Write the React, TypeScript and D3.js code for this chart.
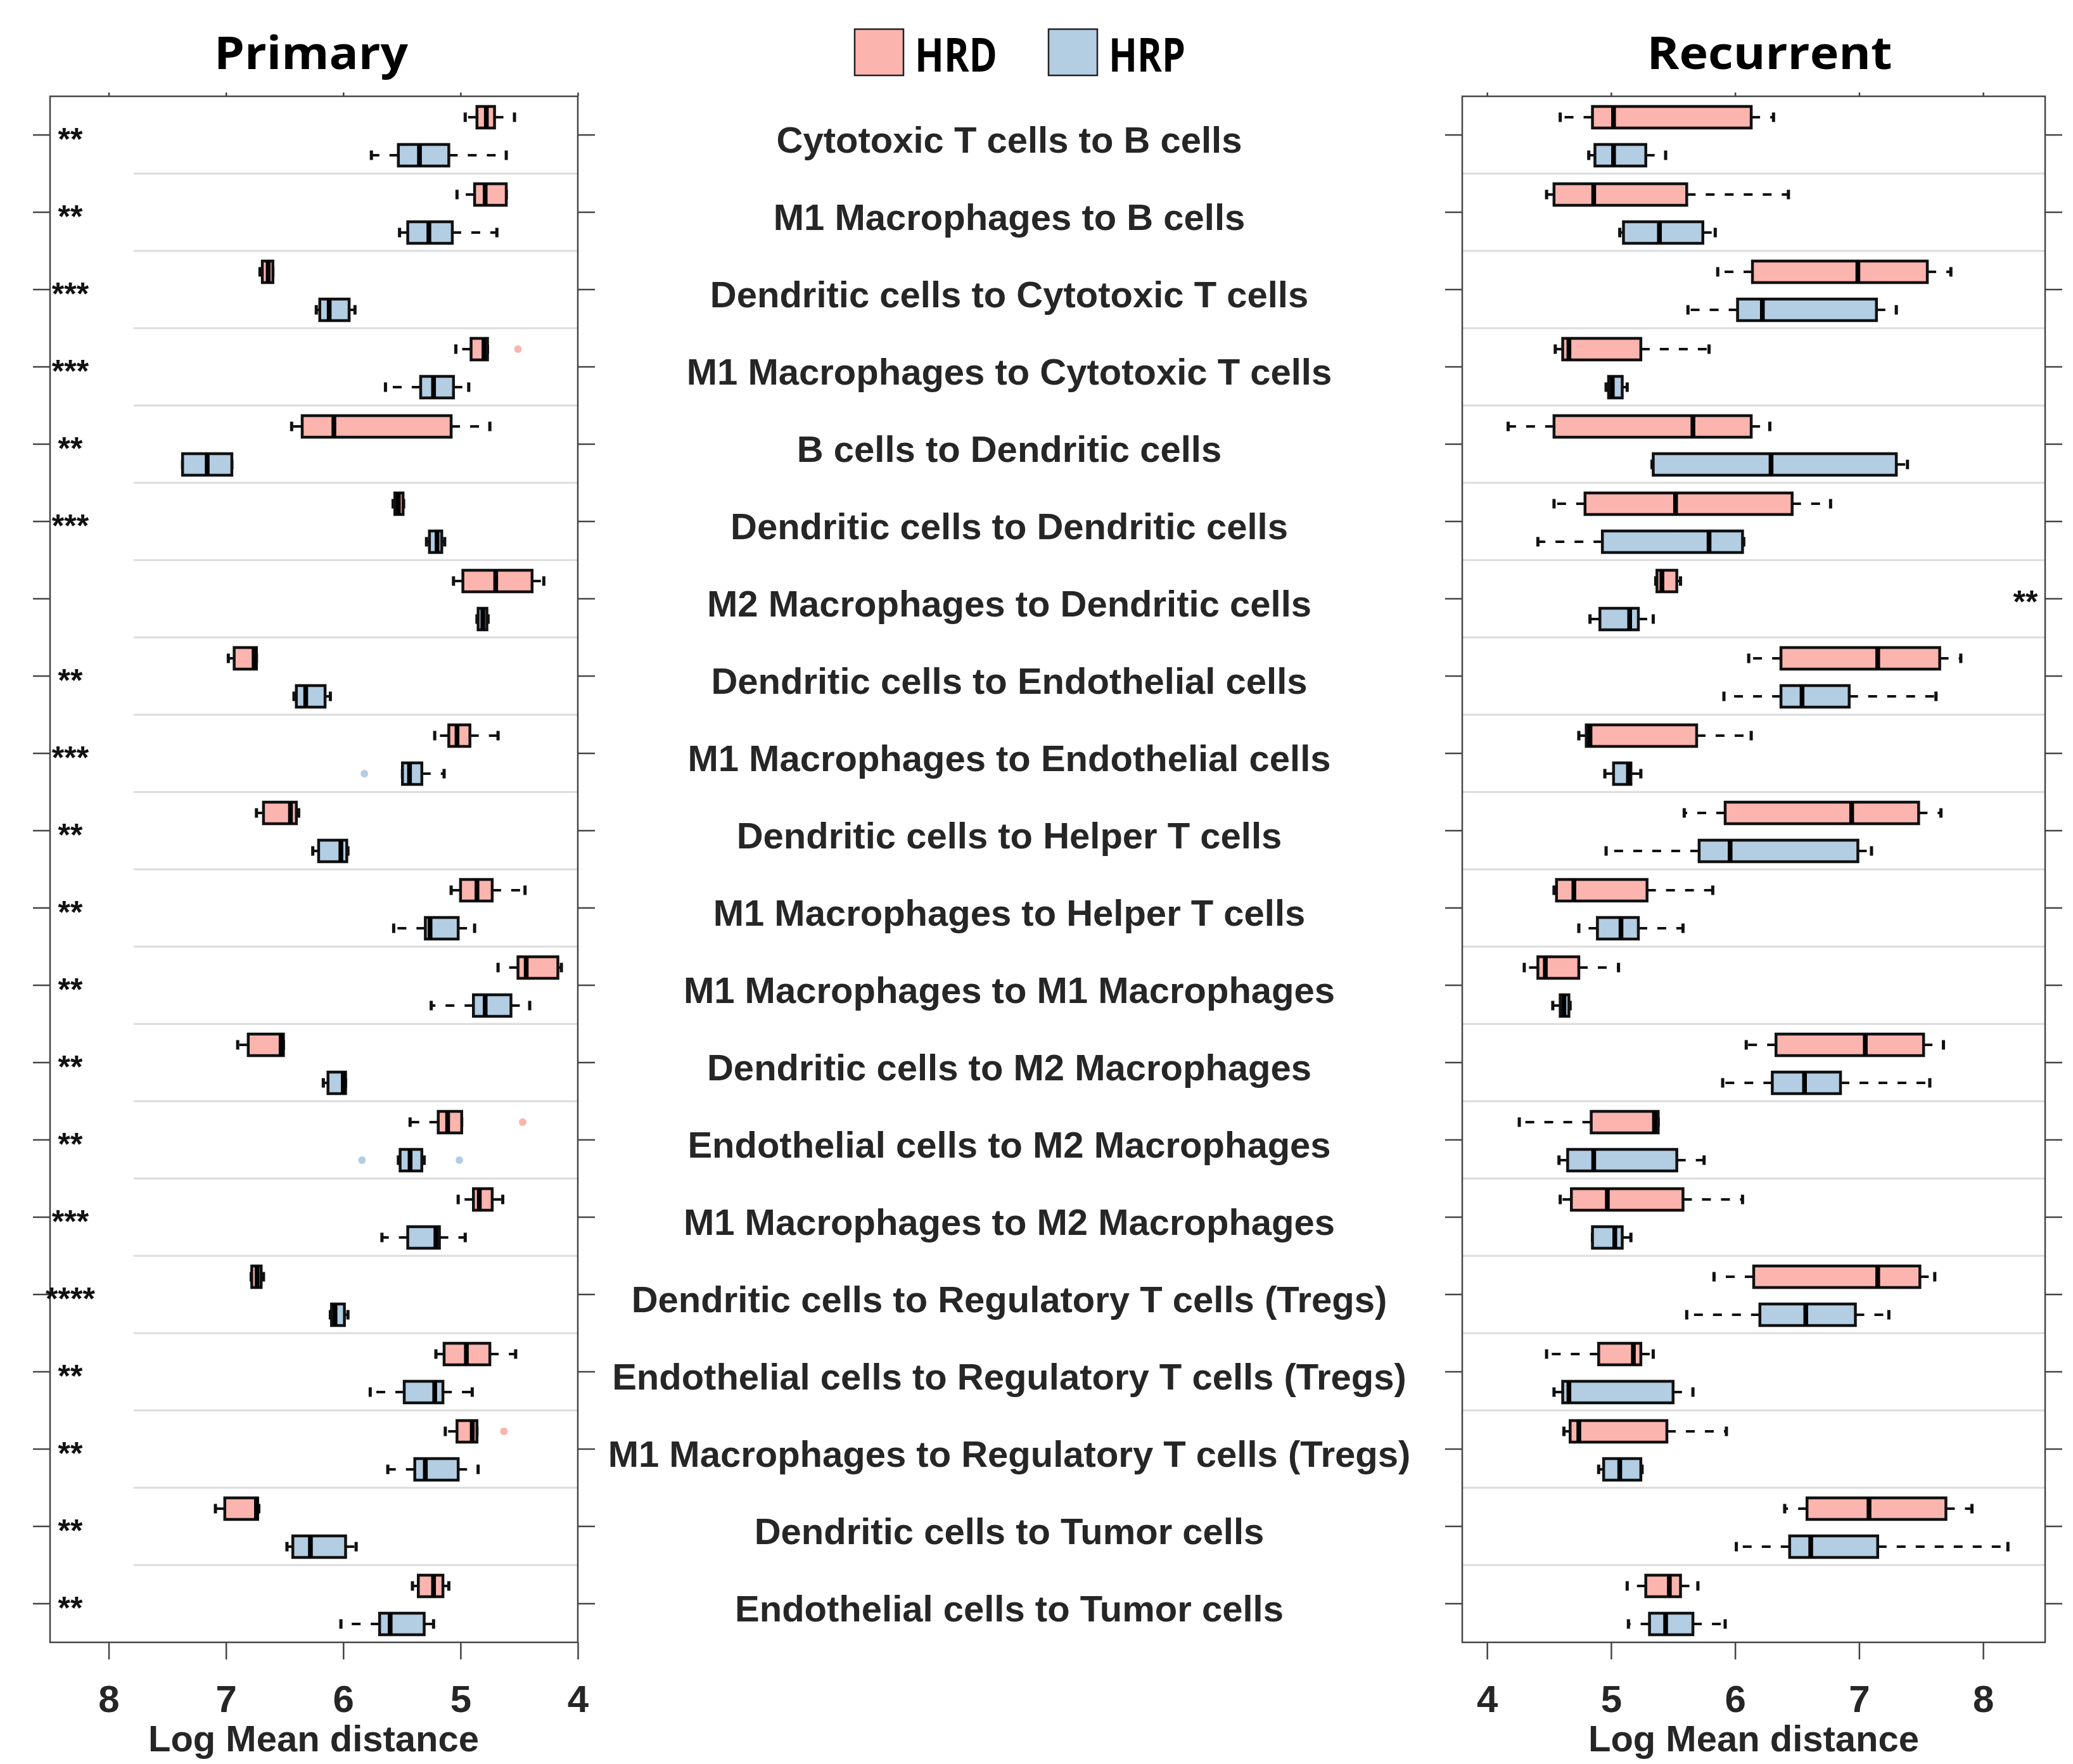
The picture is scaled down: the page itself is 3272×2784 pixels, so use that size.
import { useEffect, useRef } from 'react'
import * as d3 from 'd3'

const categories = [
  'Cytotoxic T cells to B cells',
  'M1 Macrophages to B cells',
  'Dendritic cells to Cytotoxic T cells',
  'M1 Macrophages to Cytotoxic T cells',
  'B cells to Dendritic cells',
  'Dendritic cells to Dendritic cells',
  'M2 Macrophages to Dendritic cells',
  'Dendritic cells to Endothelial cells',
  'M1 Macrophages to Endothelial cells',
  'Dendritic cells to Helper T cells',
  'M1 Macrophages to Helper T cells',
  'M1 Macrophages to M1 Macrophages',
  'Dendritic cells to M2 Macrophages',
  'Endothelial cells to M2 Macrophages',
  'M1 Macrophages to M2 Macrophages',
  'Dendritic cells to Regulatory T cells (Tregs)',
  'Endothelial cells to Regulatory T cells (Tregs)',
  'M1 Macrophages to Regulatory T cells (Tregs)',
  'Dendritic cells to Tumor cells',
  'Endothelial cells to Tumor cells',
]

// [lower whisker, q1, median, q3, upper whisker]
const primaryHRD = [
  [4.54, 4.71, 4.78, 4.86, 4.96],
  [4.61, 4.61, 4.79, 4.88, 5.03],
  [6.6, 6.6, 6.64, 6.69, 6.71],
  [4.77, 4.77, 4.8, 4.91, 5.04],
  [4.75, 5.08, 6.08, 6.35, 6.44],
  [5.485, 5.49, 5.53, 5.56, 5.575],
  [4.29, 4.39, 4.7, 4.98, 5.06],
  [6.74, 6.74, 6.76, 6.93, 6.98],
  [4.68, 4.92, 5.03, 5.1, 5.22],
  [6.38, 6.4, 6.45, 6.68, 6.74],
  [4.45, 4.73, 4.86, 5.0, 5.08],
  [4.14, 4.17, 4.44, 4.51, 4.68],
  [6.51, 6.51, 6.53, 6.81, 6.9],
  [4.99, 4.99, 5.11, 5.19, 5.43],
  [4.64, 4.73, 4.84, 4.89, 5.02],
  [6.68, 6.7, 6.735, 6.78, 6.785],
  [4.53, 4.75, 4.95, 5.14, 5.21],
  [4.86, 4.86, 4.9, 5.03, 5.13],
  [6.72, 6.73, 6.74, 7.01, 7.09],
  [5.1, 5.15, 5.23, 5.36, 5.41],
]

const primaryHRP = [
  [4.61, 5.1, 5.35, 5.53, 5.76],
  [4.69, 5.07, 5.27, 5.45, 5.52],
  [5.9, 5.95, 6.12, 6.2, 6.23],
  [4.93, 5.06, 5.23, 5.34, 5.64],
  [6.95, 6.95, 7.16, 7.37, 7.37],
  [5.135, 5.16, 5.2, 5.265, 5.29],
  [4.765, 4.775, 4.81, 4.85, 4.86],
  [6.11, 6.155, 6.32, 6.4, 6.42],
  [5.14, 5.33, 5.435, 5.495, 5.495],
  [5.96, 5.97, 6.02, 6.21, 6.26],
  [4.88, 5.02, 5.26, 5.3, 5.57],
  [4.41, 4.57, 4.79, 4.89, 5.25],
  [5.98, 5.98, 6.0, 6.13, 6.17],
  [5.31, 5.33, 5.43, 5.515, 5.53],
  [4.96, 5.18, 5.21, 5.45, 5.67],
  [5.96, 5.99, 6.07, 6.1, 6.11],
  [4.9, 5.15, 5.22, 5.48, 5.77],
  [4.85, 5.02, 5.3, 5.39, 5.62],
  [5.89, 5.98, 6.28, 6.43, 6.48],
  [5.23, 5.31, 5.6, 5.69, 6.02],
]

const recurrentHRD = [
  [4.59, 4.85, 5.02, 6.13, 6.31],
  [4.48, 4.54, 4.86, 5.61, 6.43],
  [5.86, 6.14, 6.99, 7.55, 7.74],
  [4.55, 4.61, 4.66, 5.24, 5.79],
  [4.17, 4.54, 5.66, 6.13, 6.28],
  [4.54, 4.79, 5.52, 6.46, 6.77],
  [5.36, 5.37, 5.41, 5.53, 5.56],
  [6.11, 6.37, 7.15, 7.65, 7.82],
  [4.74, 4.8, 4.83, 5.69, 6.13],
  [5.59, 5.92, 6.94, 7.48, 7.66],
  [4.54, 4.56, 4.7, 5.29, 5.82],
  [4.3, 4.41, 4.47, 4.74, 5.06],
  [6.09, 6.33, 7.05, 7.52, 7.68],
  [4.26, 4.84, 5.35, 5.38, 5.38],
  [4.59, 4.68, 4.97, 5.58, 6.06],
  [5.83, 6.15, 7.15, 7.49, 7.61],
  [4.48, 4.9, 5.18, 5.24, 5.34],
  [4.62, 4.67, 4.74, 5.45, 5.93],
  [6.4, 6.58, 7.08, 7.7, 7.91],
  [5.13, 5.28, 5.47, 5.56, 5.7],
]

const recurrentHRP = [
  [4.82, 4.87, 5.02, 5.28, 5.44],
  [5.07, 5.1, 5.39, 5.74, 5.84],
  [5.62, 6.02, 6.22, 7.14, 7.3],
  [4.96, 4.98, 5.01, 5.09, 5.13],
  [5.33, 5.34, 6.29, 7.3, 7.39],
  [4.41, 4.93, 5.79, 6.06, 6.07],
  [4.83, 4.91, 5.15, 5.22, 5.34],
  [5.91, 6.37, 6.54, 6.92, 7.62],
  [4.95, 5.02, 5.14, 5.16, 5.24],
  [4.96, 5.71, 5.96, 6.99, 7.1],
  [4.74, 4.89, 5.08, 5.22, 5.58],
  [4.53, 4.59, 4.62, 4.66, 4.67],
  [5.9, 6.3, 6.56, 6.85, 7.57],
  [4.58, 4.65, 4.86, 5.53, 5.75],
  [4.85, 4.85, 5.03, 5.09, 5.16],
  [5.61, 6.2, 6.57, 6.97, 7.24],
  [4.54, 4.61, 4.66, 5.5, 5.66],
  [4.9, 4.94, 5.07, 5.24, 5.25],
  [6.01, 6.44, 6.61, 7.15, 8.2],
  [5.14, 5.31, 5.44, 5.66, 5.92],
]

// [row index, value]
const primaryHRDOutliers = [
  [3, 4.51],
  [13, 4.47],
  [17, 4.63],
]
const primaryHRPOutliers = [
  [8, 5.82],
  [13, 5.84],
  [13, 5.01],
]

const primarySig = ['**', '**', '***', '***', '**', '***', '', '**', '***', '**',
  '**', '**', '**', '**', '***', '****', '**', '**', '**', '**']
const recurrentSig = ['', '', '', '', '', '', '**', '', '', '',
  '', '', '', '', '', '', '', '', '', '']

const xTicks = [4, 5, 6, 7, 8]
const groups = ['HRD', 'HRP']

const W = 3272
const H = 2784
const TOP = 152
const BOTTOM = 2592
const HRD_COLOR = '#fbb4ae'
const HRP_COLOR = '#b3cde3'
const TEXT = '#262626'
const LABEL_FONT = '"Liberation Sans", Arial, Helvetica, sans-serif'
const TITLE_FONT = '"Open Sans", "Noto Sans", sans-serif'

const y = d3.scaleBand().domain(categories).range([TOP, BOTTOM])
const xPrim = d3.scaleLinear().domain([8.5, 4]).range([79, 912])
const xRec = d3.scaleLinear().domain([3.8, 8.5]).range([2308, 3228])

const BOX_H = 34
const CAP_H = 15
const offsets = { HRD: -28, HRP: 32 }

function BoxGroup({ x, stats, color, offset }) {
  return (
    <g>
      {stats.map((s, i) => {
        const [lo, q1, med, q3, hi] = s
        const yc = y(categories[i]) + y.bandwidth() / 2 + offset
        const bx = Math.min(x(q1), x(q3))
        const bw = Math.abs(x(q3) - x(q1))
        return (
          <g key={i}>
            <line x1={x(q3)} x2={x(hi)} y1={yc} y2={yc} stroke="#111" strokeWidth={4} strokeDasharray="14,16" />
            <line x1={x(q1)} x2={x(lo)} y1={yc} y2={yc} stroke="#111" strokeWidth={4} strokeDasharray="14,16" />
            <line x1={x(hi)} x2={x(hi)} y1={yc - CAP_H / 2} y2={yc + CAP_H / 2} stroke="#111" strokeWidth={5} />
            <line x1={x(lo)} x2={x(lo)} y1={yc - CAP_H / 2} y2={yc + CAP_H / 2} stroke="#111" strokeWidth={5} />
            <rect x={bx} y={yc - BOX_H / 2} width={Math.max(bw, 1)} height={BOX_H} fill={color} stroke="#111" strokeWidth={4.5} />
            <line x1={x(med)} x2={x(med)} y1={yc - BOX_H / 2} y2={yc + BOX_H / 2} stroke="#000" strokeWidth={7.5} />
          </g>
        )
      })}
    </g>
  )
}

function Outliers({ x, points, color, offset }) {
  return (
    <g>
      {points.map(([i, v], k) => (
        <circle key={k} cx={x(v)} cy={y(categories[i]) + y.bandwidth() / 2 + offset} r={6} fill={color} />
      ))}
    </g>
  )
}

export default function App() {
  const axRef = useRef(null)

  useEffect(() => {
    const g = d3.select(axRef.current)
    g.selectAll('*').remove()

    const panels = [xPrim, xRec]
    panels.forEach((x) => {
      const [x0, x1] = x.range()

      const bottom = g.append('g')
        .attr('transform', `translate(0,${BOTTOM})`)
        .call(d3.axisBottom(x).tickValues(xTicks).tickSize(27).tickPadding(40).tickFormat(d3.format('d')))
      const top = g.append('g')
        .attr('transform', `translate(0,${TOP})`)
        .call(d3.axisTop(x).tickValues(xTicks).tickSize(6).tickFormat(() => ''))
      const left = g.append('g')
        .attr('transform', `translate(${x0},0)`)
        .call(d3.axisLeft(y).tickSize(27).tickFormat(() => ''))
      const right = g.append('g')
        .attr('transform', `translate(${x1},0)`)
        .call(d3.axisRight(y).tickSize(27).tickFormat(() => ''))

      ;[bottom, top, left, right].forEach((a) => {
        a.select('.domain').remove()
        a.selectAll('line').attr('stroke', '#444').attr('stroke-width', 2.5)
      })
      bottom.selectAll('text')
        .attr('font-family', LABEL_FONT)
        .attr('font-weight', 'bold')
        .attr('font-size', 60)
        .attr('fill', TEXT)
    })
  }, [])

  const sepLines = categories.slice(1)

  return (
    <svg width={W} height={H} style={{ position: 'absolute', left: 0, top: 0, background: '#fff' }}>
      <rect width={W} height={H} fill="#fff" />

      {/* row separators */}
      {sepLines.map((c) => (
        <g key={c}>
          <line x1={211} x2={912} y1={y(c)} y2={y(c)} stroke="#dcdcdc" strokeWidth={3} />
          <line x1={2308} x2={3228} y1={y(c)} y2={y(c)} stroke="#dcdcdc" strokeWidth={3} />
        </g>
      ))}

      <BoxGroup x={xPrim} stats={primaryHRD} color={HRD_COLOR} offset={offsets.HRD} />
      <BoxGroup x={xPrim} stats={primaryHRP} color={HRP_COLOR} offset={offsets.HRP} />
      <BoxGroup x={xRec} stats={recurrentHRD} color={HRD_COLOR} offset={offsets.HRD} />
      <BoxGroup x={xRec} stats={recurrentHRP} color={HRP_COLOR} offset={offsets.HRP} />
      <Outliers x={xPrim} points={primaryHRDOutliers} color={HRD_COLOR} offset={offsets.HRD} />
      <Outliers x={xPrim} points={primaryHRPOutliers} color={HRP_COLOR} offset={offsets.HRP} />

      {/* frames */}
      <rect x={79} y={TOP} width={912 - 79} height={BOTTOM - TOP} fill="none" stroke="#444" strokeWidth={2.5} />
      <rect x={2308} y={TOP} width={3228 - 2308} height={BOTTOM - TOP} fill="none" stroke="#444" strokeWidth={2.5} />

      <g ref={axRef} />

      {/* significance stars */}
      {primarySig.map((s, i) => (
        <text key={'p' + i} x={111} y={y(categories[i]) + y.bandwidth() / 2 + 24} textAnchor="middle"
          fontFamily={LABEL_FONT} fontWeight="bold" fontSize={50} fill="#111">{s}</text>
      ))}
      {recurrentSig.map((s, i) => (
        <text key={'r' + i} x={3197} y={y(categories[i]) + y.bandwidth() / 2 + 22} textAnchor="middle"
          fontFamily={LABEL_FONT} fontWeight="bold" fontSize={50} fill="#111">{s}</text>
      ))}

      {/* category labels */}
      {categories.map((c) => (
        <text key={c} x={1593} y={y(c) + y.bandwidth() / 2 + 28} textAnchor="middle"
          fontFamily={LABEL_FONT} fontWeight="bold" fontSize={58} fill={TEXT}>{c}</text>
      ))}

      {/* axis titles */}
      <text x={495} y={2764} textAnchor="middle" fontFamily={LABEL_FONT} fontWeight="bold" fontSize={58} fill={TEXT}>Log Mean distance</text>
      <text x={2768} y={2764} textAnchor="middle" fontFamily={LABEL_FONT} fontWeight="bold" fontSize={58} fill={TEXT}>Log Mean distance</text>

      {/* panel titles */}
      <text x={491} y={109} textAnchor="middle" fontFamily={TITLE_FONT} fontWeight="bold" fontSize={72}
        textLength={306} lengthAdjust="spacingAndGlyphs" fill="#000">Primary</text>
      <text x={2793} y={109} textAnchor="middle" fontFamily={TITLE_FONT} fontWeight="bold" fontSize={72}
        textLength={387} lengthAdjust="spacingAndGlyphs" fill="#000">Recurrent</text>

      {/* legend */}
      {groups.map((gName, i) => {
        const lx = i === 0 ? 1349 : 1655
        const tw = i === 0 ? 130 : 121
        return (
          <g key={gName}>
            <rect x={lx} y={46} width={77} height={73} fill={gName === 'HRD' ? HRD_COLOR : HRP_COLOR} stroke="#222" strokeWidth={2.5} />
            <text x={lx + 95} y={113} fontFamily={TITLE_FONT} fontWeight="bold" fontSize={74}
              textLength={tw} lengthAdjust="spacingAndGlyphs" fill="#000">{gName}</text>
          </g>
        )
      })}
    </svg>
  )
}
